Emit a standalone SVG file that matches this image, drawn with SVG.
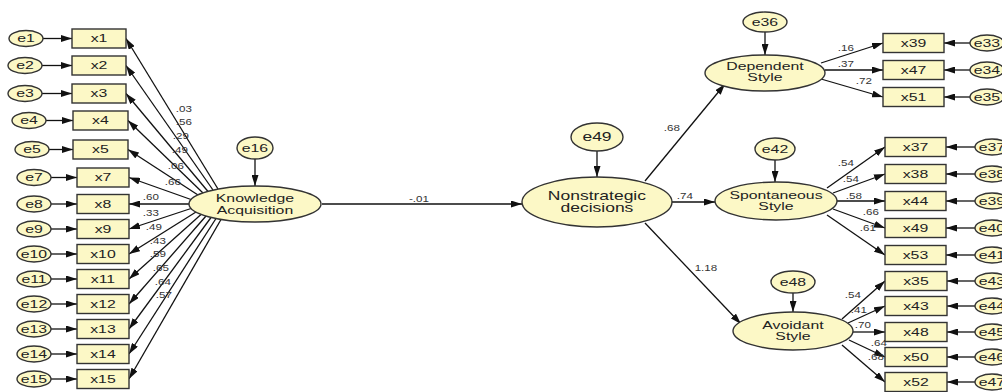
<svg xmlns="http://www.w3.org/2000/svg" width="1002" height="392" viewBox="0 0 1002 392">
<style>
.n{fill:#FCF8C6;stroke:#333;stroke-width:1.4}
.t,.L,.c{font-family:"Liberation Sans",Arial,sans-serif;text-anchor:middle;transform-box:fill-box;transform-origin:center;transform:scaleX(1.4)}
.t{font-size:11.3px;fill:#222}
.L{font-size:12.5px;fill:#222}
.c{font-size:8.3px;fill:#333}
.a{stroke:#111;stroke-width:1.3;fill:none;marker-end:url(#ah)}
</style>
<defs>
<marker id="ah" viewBox="0 0 11 7" refX="11" refY="3.5" markerWidth="11" markerHeight="7" markerUnits="userSpaceOnUse" orient="auto"><path d="M0,0 L11,3.5 L0,7 z" fill="#111"/></marker>
</defs>
<rect width="1002" height="392" fill="#fff"/>
<g id="connectors">
<line class="a" x1="43" y1="38.5" x2="72" y2="38.5"/>
<line class="a" x1="42" y1="65.5" x2="72" y2="65.5"/>
<line class="a" x1="42" y1="93.5" x2="72" y2="93.5"/>
<line class="a" x1="46" y1="120.5" x2="73" y2="120.5"/>
<line class="a" x1="49" y1="149.5" x2="73" y2="149.5"/>
<line class="a" x1="51" y1="177.5" x2="77" y2="177.5"/>
<line class="a" x1="51" y1="204" x2="77" y2="204"/>
<line class="a" x1="51" y1="229" x2="77" y2="229"/>
<line class="a" x1="51" y1="254" x2="77" y2="254"/>
<line class="a" x1="51" y1="279" x2="77" y2="279"/>
<line class="a" x1="51" y1="304" x2="77" y2="304"/>
<line class="a" x1="51" y1="329" x2="77" y2="329"/>
<line class="a" x1="51" y1="354" x2="77" y2="354"/>
<line class="a" x1="51" y1="379" x2="77" y2="379"/>
<line class="a" x1="218" y1="189" x2="126" y2="38.5"/>
<line class="a" x1="213" y1="190" x2="126" y2="65.5"/>
<line class="a" x1="208" y1="191.5" x2="126" y2="93.5"/>
<line class="a" x1="203" y1="193" x2="128" y2="120.5"/>
<line class="a" x1="198" y1="195" x2="128" y2="149.5"/>
<line class="a" x1="191" y1="199.5" x2="129" y2="177.5"/>
<line class="a" x1="189" y1="204" x2="129" y2="204"/>
<line class="a" x1="191" y1="208.5" x2="129" y2="229"/>
<line class="a" x1="196" y1="212" x2="129" y2="254"/>
<line class="a" x1="201" y1="214.5" x2="129" y2="279"/>
<line class="a" x1="206" y1="216" x2="129" y2="304"/>
<line class="a" x1="211" y1="217.5" x2="129" y2="329"/>
<line class="a" x1="216" y1="218.5" x2="129" y2="354"/>
<line class="a" x1="221" y1="219.5" x2="129" y2="379"/>
<line class="a" x1="255" y1="159" x2="255" y2="186"/>
<line class="a" x1="597" y1="151" x2="597" y2="177"/>
<line class="a" x1="765" y1="32" x2="765" y2="55"/>
<line class="a" x1="775" y1="160" x2="775" y2="182"/>
<line class="a" x1="793" y1="293" x2="793" y2="312"/>
<line class="a" x1="322" y1="204" x2="522" y2="204"/>
<line class="a" x1="645" y1="181" x2="725" y2="84"/>
<line class="a" x1="672" y1="202" x2="715" y2="202"/>
<line class="a" x1="645" y1="223" x2="741" y2="324"/>
<line class="a" x1="821" y1="63" x2="883" y2="43"/>
<line class="a" x1="825" y1="70" x2="883" y2="70"/>
<line class="a" x1="821" y1="79" x2="883" y2="97"/>
<line class="a" x1="827" y1="188" x2="885" y2="147"/>
<line class="a" x1="833" y1="193" x2="885" y2="174"/>
<line class="a" x1="837" y1="201" x2="885" y2="201"/>
<line class="a" x1="833" y1="209" x2="885" y2="228"/>
<line class="a" x1="827" y1="215" x2="885" y2="255"/>
<line class="a" x1="842" y1="319" x2="885" y2="281"/>
<line class="a" x1="848" y1="323" x2="885" y2="306"/>
<line class="a" x1="853" y1="332" x2="885" y2="332"/>
<line class="a" x1="849" y1="340" x2="885" y2="357"/>
<line class="a" x1="842" y1="345" x2="885" y2="382"/>
<line class="a" x1="970" y1="43" x2="944" y2="43"/>
<line class="a" x1="970" y1="70" x2="944" y2="70"/>
<line class="a" x1="970" y1="97" x2="944" y2="97"/>
<line class="a" x1="975" y1="147" x2="946" y2="147"/>
<line class="a" x1="975" y1="174" x2="946" y2="174"/>
<line class="a" x1="975" y1="201" x2="946" y2="201"/>
<line class="a" x1="975" y1="228" x2="946" y2="228"/>
<line class="a" x1="975" y1="255" x2="946" y2="255"/>
<line class="a" x1="975" y1="281" x2="947" y2="281"/>
<line class="a" x1="975" y1="306" x2="947" y2="306"/>
<line class="a" x1="975" y1="332" x2="947" y2="332"/>
<line class="a" x1="975" y1="357" x2="947" y2="357"/>
<line class="a" x1="975" y1="382" x2="947" y2="382"/>
</g>
<g id="coefficients">
<text class="c" x="184" y="112">.03</text>
<text class="c" x="184" y="125">.56</text>
<text class="c" x="181" y="139">.29</text>
<text class="c" x="180" y="153">.49</text>
<text class="c" x="176" y="169">.06</text>
<text class="c" x="173" y="185">.66</text>
<text class="c" x="151" y="200">.60</text>
<text class="c" x="151" y="216">.33</text>
<text class="c" x="154" y="230">.49</text>
<text class="c" x="158" y="244">.43</text>
<text class="c" x="158" y="257">.59</text>
<text class="c" x="161" y="271">.65</text>
<text class="c" x="163" y="285">.64</text>
<text class="c" x="164" y="298">.57</text>
<text class="c" x="419" y="202">-.01</text>
<text class="c" x="672" y="131">.68</text>
<text class="c" x="685" y="199">.74</text>
<text class="c" x="706" y="271">1.18</text>
<text class="c" x="846" y="51">.16</text>
<text class="c" x="846" y="67">.37</text>
<text class="c" x="864" y="84">.72</text>
<text class="c" x="846" y="166">.54</text>
<text class="c" x="851" y="182">.54</text>
<text class="c" x="854" y="199">.58</text>
<text class="c" x="871" y="215">.66</text>
<text class="c" x="868" y="231">.61</text>
<text class="c" x="853" y="298">.54</text>
<text class="c" x="859" y="313">.41</text>
<text class="c" x="863" y="328">.70</text>
<text class="c" x="879" y="346">.64</text>
<text class="c" x="876" y="360">.68</text>
</g>
<g id="left-e">
<g id="e1"><ellipse class="n" cx="26" cy="38.5" rx="17" ry="8"/><text class="t" x="26" y="42.5">e1</text></g>
<g id="e2"><ellipse class="n" cx="25" cy="65.5" rx="17" ry="8"/><text class="t" x="25" y="69.5">e2</text></g>
<g id="e3"><ellipse class="n" cx="25" cy="93.5" rx="17" ry="8"/><text class="t" x="25" y="97.5">e3</text></g>
<g id="e4"><ellipse class="n" cx="29" cy="120.5" rx="17" ry="8"/><text class="t" x="29" y="124.5">e4</text></g>
<g id="e5"><ellipse class="n" cx="32" cy="149.5" rx="17" ry="8"/><text class="t" x="32" y="153.5">e5</text></g>
<g id="e7"><ellipse class="n" cx="34" cy="177.5" rx="17" ry="8"/><text class="t" x="34" y="181.5">e7</text></g>
<g id="e8"><ellipse class="n" cx="34" cy="204" rx="17" ry="8"/><text class="t" x="34" y="208">e8</text></g>
<g id="e9"><ellipse class="n" cx="34" cy="229" rx="17" ry="8"/><text class="t" x="34" y="233">e9</text></g>
<g id="e10"><ellipse class="n" cx="34" cy="254" rx="17" ry="8"/><text class="t" x="34" y="258">e10</text></g>
<g id="e11"><ellipse class="n" cx="34" cy="279" rx="17" ry="8"/><text class="t" x="34" y="283">e11</text></g>
<g id="e12"><ellipse class="n" cx="34" cy="304" rx="17" ry="8"/><text class="t" x="34" y="308">e12</text></g>
<g id="e13"><ellipse class="n" cx="34" cy="329" rx="17" ry="8"/><text class="t" x="34" y="333">e13</text></g>
<g id="e14"><ellipse class="n" cx="34" cy="354" rx="17" ry="8"/><text class="t" x="34" y="358">e14</text></g>
<g id="e15"><ellipse class="n" cx="34" cy="379" rx="17" ry="8"/><text class="t" x="34" y="383">e15</text></g>
</g>
<g id="left-x">
<g id="x1"><rect class="n" x="72" y="29" width="54" height="19"/><text class="t" x="99" y="42.5">x1</text></g>
<g id="x2"><rect class="n" x="72" y="56" width="54" height="19"/><text class="t" x="99" y="69.5">x2</text></g>
<g id="x3"><rect class="n" x="72" y="84" width="54" height="19"/><text class="t" x="99" y="97.5">x3</text></g>
<g id="x4"><rect class="n" x="73" y="111" width="55" height="19"/><text class="t" x="100.5" y="124.5">x4</text></g>
<g id="x5"><rect class="n" x="73" y="140" width="55" height="19"/><text class="t" x="100.5" y="153.5">x5</text></g>
<g id="x7"><rect class="n" x="77" y="168" width="52" height="19"/><text class="t" x="103" y="181.5">x7</text></g>
<g id="x8"><rect class="n" x="77" y="194.5" width="52" height="19"/><text class="t" x="103" y="208">x8</text></g>
<g id="x9"><rect class="n" x="77" y="219.5" width="52" height="19"/><text class="t" x="103" y="233">x9</text></g>
<g id="x10"><rect class="n" x="77" y="244.5" width="52" height="19"/><text class="t" x="103" y="258">x10</text></g>
<g id="x11"><rect class="n" x="77" y="269.5" width="52" height="19"/><text class="t" x="103" y="283">x11</text></g>
<g id="x12"><rect class="n" x="77" y="294.5" width="52" height="19"/><text class="t" x="103" y="308">x12</text></g>
<g id="x13"><rect class="n" x="77" y="319.5" width="52" height="19"/><text class="t" x="103" y="333">x13</text></g>
<g id="x14"><rect class="n" x="77" y="344.5" width="52" height="19"/><text class="t" x="103" y="358">x14</text></g>
<g id="x15"><rect class="n" x="77" y="369.5" width="52" height="19"/><text class="t" x="103" y="383">x15</text></g>
</g>
<g id="KnowledgeAcquisition"><ellipse class="n" cx="255" cy="204" rx="66" ry="18"/><text class="t" x="255" y="202">Knowledge</text><text class="t" x="255" y="214">Acquisition</text></g>
<g id="e16"><ellipse class="n" cx="255" cy="148" rx="18" ry="11"/><text class="t" x="255" y="152">e16</text></g>
<g id="Nonstrategic"><ellipse class="n" cx="597" cy="202" rx="75" ry="25"/><text class="L" x="597" y="200">Nonstrategic</text><text class="L" x="597" y="212">decisions</text></g>
<g id="e49"><ellipse class="n" cx="597" cy="137" rx="26" ry="14"/><text class="L" x="597" y="141">e49</text></g>
<g id="DependentStyle"><ellipse class="n" cx="765" cy="73" rx="60" ry="18"/><text class="t" x="765" y="70">Dependent</text><text class="t" x="765" y="81">Style</text></g>
<g id="e36"><ellipse class="n" cx="765" cy="22" rx="22" ry="10"/><text class="t" x="765" y="26">e36</text></g>
<g id="SpontaneousStyle"><ellipse class="n" cx="776" cy="201" rx="61" ry="19"/><text class="t" x="776" y="199">Spontaneous</text><text class="t" x="776" y="210">Style</text></g>
<g id="e42"><ellipse class="n" cx="775" cy="149" rx="20" ry="11"/><text class="t" x="775" y="153">e42</text></g>
<g id="AvoidantStyle"><ellipse class="n" cx="793" cy="331" rx="60" ry="19"/><text class="t" x="793" y="329">Avoidant</text><text class="t" x="793" y="340">Style</text></g>
<g id="e48"><ellipse class="n" cx="793" cy="282" rx="22" ry="11"/><text class="t" x="793" y="286">e48</text></g>
<g id="right-x">
<g id="x39"><rect class="n" x="883" y="33.5" width="61" height="19"/><text class="t" x="913.5" y="47">x39</text></g>
<g id="x47"><rect class="n" x="883" y="60.5" width="61" height="19"/><text class="t" x="913.5" y="74">x47</text></g>
<g id="x51"><rect class="n" x="883" y="87.5" width="61" height="19"/><text class="t" x="913.5" y="101">x51</text></g>
<g id="x37"><rect class="n" x="885" y="137.5" width="61" height="19"/><text class="t" x="915.5" y="151">x37</text></g>
<g id="x38"><rect class="n" x="885" y="164.5" width="61" height="19"/><text class="t" x="915.5" y="178">x38</text></g>
<g id="x44"><rect class="n" x="885" y="191.5" width="61" height="19"/><text class="t" x="915.5" y="205">x44</text></g>
<g id="x49"><rect class="n" x="885" y="218.5" width="61" height="19"/><text class="t" x="915.5" y="232">x49</text></g>
<g id="x53"><rect class="n" x="885" y="245.5" width="61" height="19"/><text class="t" x="915.5" y="259">x53</text></g>
<g id="x35"><rect class="n" x="885" y="271.5" width="62" height="19"/><text class="t" x="916" y="285">x35</text></g>
<g id="x43"><rect class="n" x="885" y="296.5" width="62" height="19"/><text class="t" x="916" y="310">x43</text></g>
<g id="x48"><rect class="n" x="885" y="322.5" width="62" height="19"/><text class="t" x="916" y="336">x48</text></g>
<g id="x50"><rect class="n" x="885" y="347.5" width="62" height="19"/><text class="t" x="916" y="361">x50</text></g>
<g id="x52"><rect class="n" x="885" y="372.5" width="62" height="19"/><text class="t" x="916" y="386">x52</text></g>
</g>
<g id="right-e">
<g id="e33"><ellipse class="n" cx="987" cy="43" rx="17" ry="8"/><text class="t" x="987" y="47">e33</text></g>
<g id="e34"><ellipse class="n" cx="987" cy="70" rx="17" ry="8"/><text class="t" x="987" y="74">e34</text></g>
<g id="e35"><ellipse class="n" cx="987" cy="97" rx="17" ry="8"/><text class="t" x="987" y="101">e35</text></g>
<g id="e37"><ellipse class="n" cx="992" cy="147" rx="17" ry="8"/><text class="t" x="992" y="151">e37</text></g>
<g id="e38"><ellipse class="n" cx="992" cy="174" rx="17" ry="8"/><text class="t" x="992" y="178">e38</text></g>
<g id="e39"><ellipse class="n" cx="992" cy="201" rx="17" ry="8"/><text class="t" x="992" y="205">e39</text></g>
<g id="e40"><ellipse class="n" cx="992" cy="228" rx="17" ry="8"/><text class="t" x="992" y="232">e40</text></g>
<g id="e41"><ellipse class="n" cx="992" cy="255" rx="17" ry="8"/><text class="t" x="992" y="259">e41</text></g>
<g id="e43"><ellipse class="n" cx="992" cy="281" rx="17" ry="8"/><text class="t" x="992" y="285">e43</text></g>
<g id="e44"><ellipse class="n" cx="992" cy="306" rx="17" ry="8"/><text class="t" x="992" y="310">e44</text></g>
<g id="e45"><ellipse class="n" cx="992" cy="332" rx="17" ry="8"/><text class="t" x="992" y="336">e45</text></g>
<g id="e46"><ellipse class="n" cx="992" cy="357" rx="17" ry="8"/><text class="t" x="992" y="361">e46</text></g>
<g id="e47"><ellipse class="n" cx="992" cy="382" rx="17" ry="8"/><text class="t" x="992" y="386">e47</text></g>
</g>
</svg>
